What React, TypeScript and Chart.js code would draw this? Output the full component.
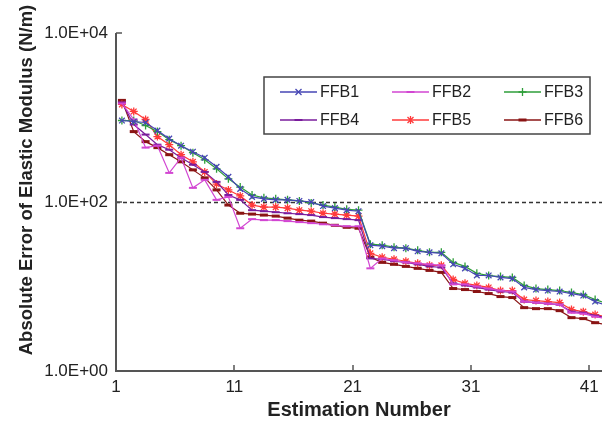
import React, { useEffect, useRef } from "react";
import { Chart, registerables } from "chart.js";

Chart.register(...registerables);

// ---------- data ----------
const estimationNumbers = [
  1, 2, 3, 4, 5, 6, 7, 8, 9, 10, 11, 12, 13, 14, 15, 16, 17, 18, 19, 20, 21,
  22, 23, 24, 25, 26, 27, 28, 29, 30, 31, 32, 33, 34, 35, 36, 37, 38, 39, 40, 41, 42,
];

const ffb1 = [
  921, 896, 872, 700, 562, 464, 394, 334, 261, 199, 143, 115, 109, 106, 106, 103, 100, 89.5, 84.7, 80, 77.8,
  30.8, 30.0, 28.4, 28.4, 26.1, 25.4, 24.7, 18.3, 16.4, 13.5, 13.5, 12.8, 12.4, 9.75, 9.2, 8.96, 8.72, 8.25, 7.81, 6.63, 5.94,
];
const ffb2 = [
  1468, 947, 440, 464, 221, 334, 147, 183, 106, 115, 48.9, 62.7, 61, 61, 59.4, 57.8, 56.2, 54.5, 53, 51.6, 51.6,
  16.4, 21.5, 20.4, 19.3, 18.8, 18.3, 17.8, 10.6, 10.6, 10.0, 9.46, 8.96, 8.72, 6.63, 6.45, 6.27, 6.1, 4.9, 4.77, 4.4, 4.17,
];
const ffb3 = [
  921, 921, 804, 681, 547, 464, 383, 316, 247, 188, 150, 121, 112, 109, 106, 103, 97.3, 92, 87, 82, 80,
  31.7, 30.8, 29.2, 28.4, 26.8, 25.4, 25.4, 19.3, 17.3, 14.3, 13.5, 13.1, 12.8, 10.3, 9.46, 9.2, 8.96, 8.49, 8.03, 7.0, 6.27,
];
const ffb4 = [
  1509, 826, 628, 477, 416, 334, 276, 227, 173, 121, 106, 80, 77.8, 75.7, 73.6, 71.9, 70, 66.3, 64.5, 62.7, 61,
  21.5, 21.0, 19.9, 19.3, 18.3, 17.3, 16.8, 10.9, 10.3, 9.75, 9.2, 8.72, 8.49, 6.63, 6.45, 6.27, 6.1, 5.04, 4.9, 4.52, 4.28,
];
const ffb5 = [
  1428, 1179, 947, 595, 477, 363, 299, 227, 163, 139, 118, 92, 87, 87, 84.7, 80, 77.8, 73.6, 71.9, 70, 68.1,
  24.7, 22.2, 21.0, 19.9, 18.8, 17.8, 17.8, 12.1, 10.9, 10.3, 9.75, 8.96, 8.96, 7.0, 6.81, 6.63, 6.45, 5.33, 5.04, 4.65, 4.4,
];
const ffb6 = [
  1594, 681, 518, 440, 363, 299, 240, 193, 139, 92, 73.6, 71.9, 70, 68.1, 64.5, 61, 59.4, 56.2, 53, 50.2, 48.9,
  22.2, 19.3, 18.3, 17.3, 16.4, 15.5, 14.7, 9.46, 9.2, 8.72, 8.25, 7.6, 7.4, 5.62, 5.47, 5.47, 5.18, 4.28, 4.17, 3.73, 3.53,
];

const seriesNames = ["FFB1", "FFB2", "FFB3", "FFB4", "FFB5", "FFB6"];
const seriesValues = [ffb1, ffb2, ffb3, ffb4, ffb5, ffb6];

const xTickPositions = [0.5, 10.5, 20.5, 30.5, 40.5];
const xTickLabels = ["1", "11", "21", "31", "41"];
const yTickValues = [1, 100, 10000];
const yTickLabels = ["1.0E+00", "1.0E+02", "1.0E+04"];
const referenceLineValue = 100;

const xTitle = "Estimation Number";
const yTitle = "Absolute Error of Elastic Modulus (N/m)";

// ---------- styles ----------
const seriesColors = ["#4646B4", "#D246D2", "#2E9E3A", "#7A1C9C", "#FF3A3A", "#8A1414"];
const seriesMarkers = ["crossRot", "line", "cross", "line", "star", "line"];
const seriesMarkerWidth = [1.3, 2, 1.3, 2, 1.3, 3];

const FONT = '"Liberation Sans", Arial, sans-serif';

function drawMarker(ctx: CanvasRenderingContext2D, style: string, x: number, y: number, r: number) {
  ctx.beginPath();
  if (style === "crossRot") {
    ctx.moveTo(x - r * 0.75, y - r * 0.75);
    ctx.lineTo(x + r * 0.75, y + r * 0.75);
    ctx.moveTo(x - r * 0.75, y + r * 0.75);
    ctx.lineTo(x + r * 0.75, y - r * 0.75);
  } else if (style === "cross") {
    ctx.moveTo(x, y - r);
    ctx.lineTo(x, y + r);
    ctx.moveTo(x - r, y);
    ctx.lineTo(x + r, y);
  } else if (style === "star") {
    ctx.moveTo(x, y - r);
    ctx.lineTo(x, y + r);
    ctx.moveTo(x - r * 0.75, y - r * 0.75);
    ctx.lineTo(x + r * 0.75, y + r * 0.75);
    ctx.moveTo(x - r * 0.75, y + r * 0.75);
    ctx.lineTo(x + r * 0.75, y - r * 0.75);
  } else {
    ctx.moveTo(x - r, y);
    ctx.lineTo(x + r, y);
  }
  ctx.stroke();
}

const framePlugin = {
  id: "frame",
  beforeDatasetsDraw(chart: any) {
    const { ctx, chartArea: ca, scales } = chart;
    const yy = Math.round(scales.y.getPixelForValue(referenceLineValue)) + 0.5;
    ctx.save();
    ctx.strokeStyle = "#333";
    ctx.lineWidth = 1.5;
    ctx.setLineDash([4, 3]);
    ctx.beginPath();
    ctx.moveTo(ca.left, yy);
    ctx.lineTo(ca.right, yy);
    ctx.stroke();
    ctx.restore();
  },
  afterDraw(chart: any) {
    const { ctx, chartArea: ca, scales } = chart;
    ctx.save();
    // axes
    ctx.strokeStyle = "#555";
    ctx.lineWidth = 2;
    ctx.beginPath();
    ctx.moveTo(ca.left, ca.top);
    ctx.lineTo(ca.left, ca.bottom);
    ctx.lineTo(ca.right, ca.bottom);
    ctx.stroke();
    ctx.lineWidth = 1.5;
    ctx.beginPath();
    yTickValues.forEach((v) => {
      const p = Math.round(scales.y.getPixelForValue(v));
      ctx.moveTo(ca.left, p);
      ctx.lineTo(ca.left + 6, p);
    });
    xTickPositions.forEach((v) => {
      const p = Math.round(scales.x.getPixelForValue(v));
      ctx.moveTo(p, ca.bottom);
      ctx.lineTo(p, ca.bottom - 6);
    });
    ctx.stroke();

    // legend
    const bx = 264, by = 77, bw = 326, bh = 57;
    ctx.fillStyle = "#fff";
    ctx.fillRect(bx, by, bw, bh);
    ctx.strokeStyle = "#444";
    ctx.lineWidth = 1.5;
    ctx.strokeRect(bx, by, bw, bh);
    ctx.font = `16px ${FONT}`;
    ctx.textBaseline = "middle";
    ctx.textAlign = "left";
    chart.data.datasets.forEach((ds: any, i: number) => {
      const col = i % 3;
      const row = Math.floor(i / 3);
      const x0 = 280 + col * 112;
      const yc = 92 + row * 28;
      ctx.strokeStyle = ds.borderColor;
      ctx.lineWidth = 1.3;
      ctx.beginPath();
      ctx.moveTo(x0, yc);
      ctx.lineTo(x0 + 37, yc);
      ctx.stroke();
      ctx.lineWidth = ds.pointBorderWidth;
      drawMarker(ctx, ds.pointStyle, x0 + 18.5, yc, 4);
      ctx.fillStyle = "#222";
      ctx.fillText(ds.label, x0 + 40, yc + 1);
    });

    // titles
    ctx.fillStyle = "#222";
    ctx.textAlign = "center";
    ctx.textBaseline = "middle";
    ctx.font = `bold 20px ${FONT}`;
    ctx.fillText(xTitle, (ca.left + ca.right) / 2, 410);
    ctx.save();
    ctx.translate(27, 180);
    ctx.rotate(-Math.PI / 2);
    ctx.font = `bold 18.5px ${FONT}`;
    ctx.fillText(yTitle, 0, 0);
    ctx.restore();
    ctx.restore();
  },
};

export default function App() {
  const ref = useRef<HTMLCanvasElement>(null);
  useEffect(() => {
    document.body.style.margin = "0";
    const datasets = seriesNames.map((name, i) => ({
      label: name,
      data: estimationNumbers.map((n, k) => ({ x: n, y: seriesValues[i][k] })),
      borderColor: seriesColors[i],
      backgroundColor: seriesColors[i],
      borderWidth: 1.2,
      pointStyle: seriesMarkers[i],
      pointRadius: 4,
      pointBorderWidth: seriesMarkerWidth[i],
      pointBorderColor: seriesColors[i],
      pointBackgroundColor: seriesColors[i],
      tension: 0,
      fill: false,
    }));
    const chart = new Chart(ref.current as HTMLCanvasElement, {
      type: "line",
      data: { datasets },
      options: {
        responsive: false,
        animation: false,
        devicePixelRatio: 1,
        layout: { padding: { top: 33, left: 0, right: 0, bottom: 0 } },
        plugins: { legend: { display: false }, tooltip: { enabled: false } },
        scales: {
          x: {
            type: "linear",
            min: 0.5,
            max: 41.58,
            grid: { display: false, drawTicks: false },
            border: { display: false },
            afterBuildTicks: (s: any) => {
              s.ticks = xTickPositions.map((v) => ({ value: v }));
            },
            afterFit: (s: any) => {
              s.height = 53;
            },
            ticks: {
              autoSkip: false,
              maxRotation: 0,
              padding: 6,
              color: "#222",
              font: { family: FONT, size: 17 },
              callback: (_v: any, i: number) => xTickLabels[i],
            },
          },
          y: {
            type: "logarithmic",
            min: 1,
            max: 10000,
            grid: { display: false, drawTicks: false },
            border: { display: false },
            afterBuildTicks: (s: any) => {
              s.ticks = yTickValues.map((v) => ({ value: v }));
            },
            afterFit: (s: any) => {
              s.width = 116;
            },
            ticks: {
              padding: 8,
              color: "#222",
              font: { family: FONT, size: 17 },
              callback: (_v: any, i: number) => yTickLabels[i],
            },
          },
        },
      },
      plugins: [framePlugin],
    } as any);
    return () => chart.destroy();
  }, []);
  return (
    <div style={{ width: 609, height: 424 }}>
      <canvas ref={ref} width={609} height={424} style={{ display: "block" }} />
    </div>
  );
}
